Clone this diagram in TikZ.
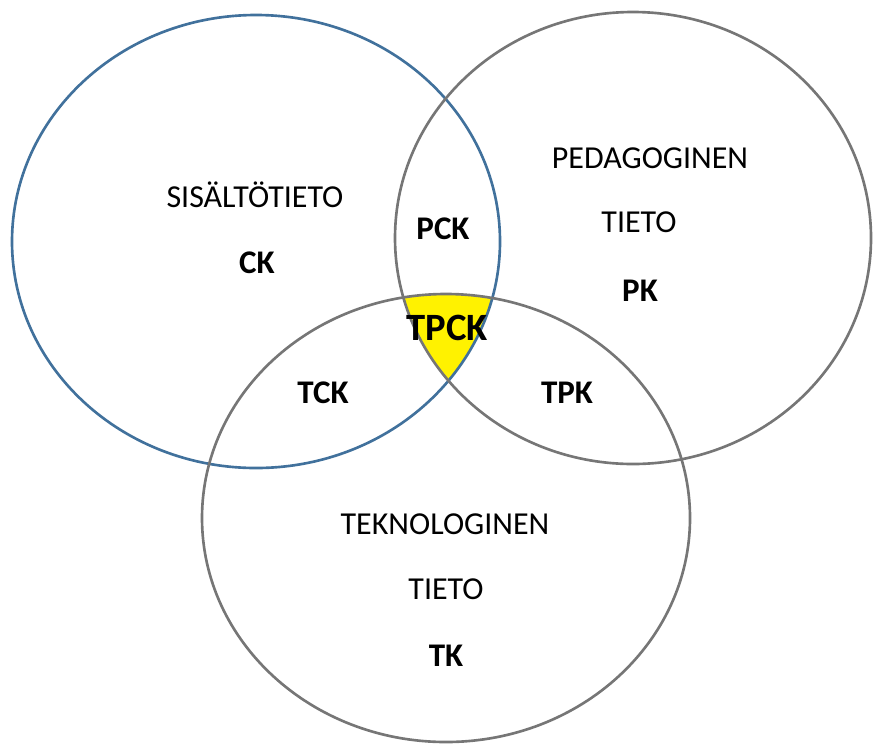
\documentclass[tikz,border=0pt]{standalone}
\usepackage{fontspec}
\setmainfont{Carlito}
\usepackage{xcolor}
\usepackage{tikz}
\usetikzlibrary{shapes.geometric}

\definecolor{circblue}{RGB}{65,113,156}
\definecolor{circgray}{RGB}{118,118,118}

\begin{document}
\begin{tikzpicture}[
    area/.style={ellipse, draw, line width=1.5pt, inner sep=0pt},
    field/.style={font=\fontsize{18.2}{20}\selectfont},
    abbr/.style={font=\fontsize{18.8}{20}\selectfont\bfseries},
    core/.style={font=\fontsize{22}{24}\selectfont\bfseries}
]

\useasboundingbox (0,0) rectangle (17.5,-14.86);

% yellow middle part
\begin{scope}
  \clip (5.12,-4.83) ellipse (4.88 and 4.53);
  \clip (12.66,-4.76) ellipse (4.76 and 4.52);
  \fill[yellow] (8.92,-10.36) ellipse (4.88 and 4.48);
\end{scope}

\node[area, draw=circblue, minimum width=9.76cm, minimum height=9.06cm] (content) at (5.12,-4.83) {};
\node[area, draw=circgray, minimum width=9.52cm, minimum height=9.04cm] (pedagogy) at (12.66,-4.76) {};
\node[area, draw=circgray, minimum width=9.76cm, minimum height=8.96cm] (technology) at (8.92,-10.36) {};

\node[field] (sisalto) at (5.1,-3.9) {SISÄLTÖTIETO};
\node[abbr] (ck) at (5.14,-5.25) {CK};

\node[field] (pedag) at (13.0,-3.16) {PEDAGOGINEN};
\node[field] (tietop) at (12.78,-4.44) {TIETO};
\node[abbr] (pk) at (12.8,-5.82) {PK};

\node[field] (teknol) at (8.9,-10.48) {TEKNOLOGINEN};
\node[field] (tietot) at (8.92,-11.78) {TIETO};
\node[abbr] (tk) at (8.92,-13.12) {TK};

\node[abbr] (pck) at (8.86,-4.58) {PCK};
\node[abbr] (tck) at (6.46,-7.86) {TCK};
\node[abbr] (tpk) at (11.34,-7.86) {TPK};
\node[core] (tpck) at (8.94,-6.56) {TPCK};

\end{tikzpicture}
\end{document}
